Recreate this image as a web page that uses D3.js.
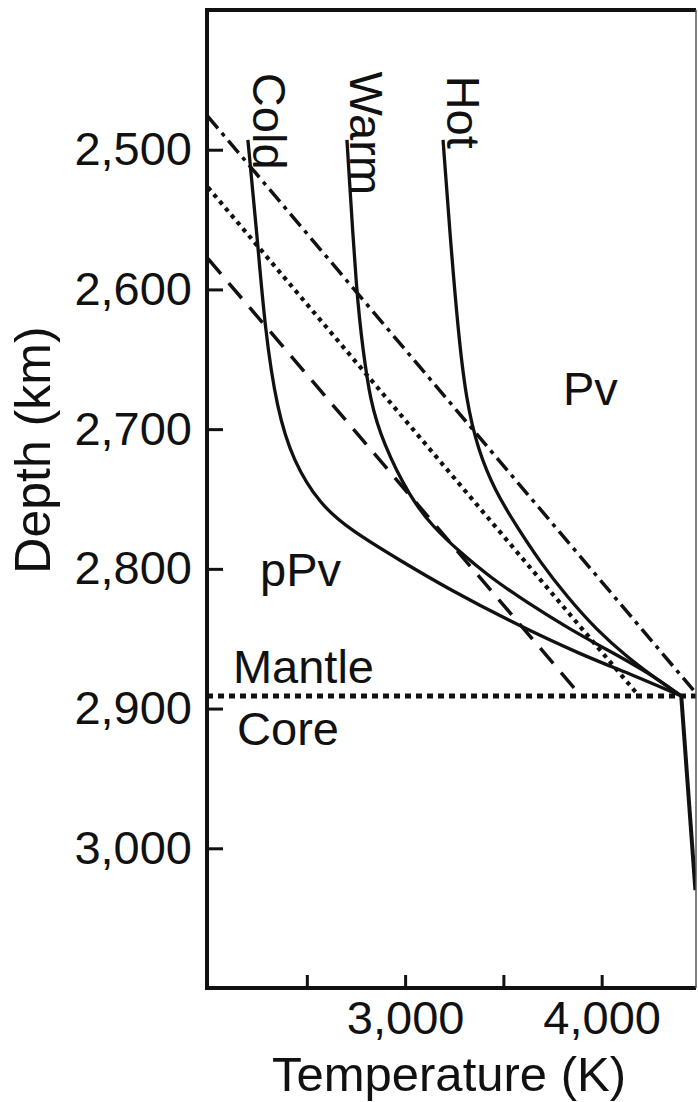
<!DOCTYPE html>
<html lang="en">
<head>
<meta charset="UTF-8">
<title>Geotherms near the core-mantle boundary</title>
<script src="https://d3js.org/d3.v7.min.js"></script>
<style>
  body { margin: 0; background: #fff; }
  text { font-family: "Liberation Sans", Arial, Helvetica, sans-serif; fill: #111; }
</style>
</head>
<body>
<svg class="chart" width="698" height="1102"></svg>
<script>
// geotherms [temperature K, depth km]
const cold = [[2200, 2493], [2246, 2560], [2287, 2629], [2348, 2686], [2430, 2723], [2567, 2754],
  [2720, 2772], [2974, 2794], [3228, 2815], [3569, 2840], [3905, 2862], [4159, 2876], [4405, 2891]];
const warm = [[2704, 2493], [2755, 2608], [2786, 2643], [2821, 2679], [2887, 2710], [3025, 2749],
  [3142, 2770], [3279, 2788], [3432, 2806], [3620, 2824], [3824, 2842], [4042, 2859], [4246, 2875], [4405, 2891]];
const hot = [[3193, 2493], [3228, 2560], [3269, 2629], [3310, 2679], [3371, 2715], [3457, 2744],
  [3569, 2770], [3686, 2795], [3824, 2820], [3976, 2844], [4129, 2863], [4281, 2879], [4405, 2891]];
const core = [[4405, 2891], [4477, 3030]];

// Pv -> pPv phase boundaries
const boundaryDashDot = [[1995, 2476], [4480, 2889]];
const boundaryDotted = [[1997, 2527], [4190, 2891]];
const boundaryDashed = [[1997, 2578], [3895, 2891]];

const cmbDepth = 2891;
const depthTicks = [2500, 2600, 2700, 2800, 2900, 3000];
const tempTicks = [2500, 3000, 3500, 4000];

const curveLabels = [{ text: 'Cold', T: 2226, D: 2445 }, { text: 'Warm', T: 2720, D: 2444 }, { text: 'Hot', T: 3213, D: 2447 }];
const regionLabels = [{ text: 'Pv', T: 3803, D: 2683 }, { text: 'pPv', T: 2262, D: 2812 },
  { text: 'Mantle', T: 2124, D: 2882 }, { text: 'Core', T: 2145, D: 2926 }];

const svg = d3.select('.chart');
const fontSize = 47;

const x = d3.scaleLinear().domain([1992, 4480]).range([207, 696]);
const y = d3.scaleLinear().domain([2400, 3100]).range([10, 988]);

const line = d3.line().x(d => x(d[0])).y(d => y(d[1]));
const smooth = d3.line().x(d => x(d[0])).y(d => y(d[1])).curve(d3.curveBasis);

svg.append('clipPath').attr('id', 'plot')
  .append('rect').attr('x', 207).attr('y', 10).attr('width', 489).attr('height', 978);

const plot = svg.append('g').attr('clip-path', 'url(#plot)');

// phase boundaries
plot.append('path').datum(boundaryDashDot).attr('d', line)
  .attr('fill', 'none').attr('stroke', '#111').attr('stroke-width', 3.5)
  .attr('stroke-dasharray', '16 6 4 6');
plot.append('path').datum(boundaryDotted).attr('d', line)
  .attr('fill', 'none').attr('stroke', '#111').attr('stroke-width', 4.2)
  .attr('stroke-dasharray', '4.2 4.8');
plot.append('path').datum(boundaryDashed).attr('d', line)
  .attr('fill', 'none').attr('stroke', '#111').attr('stroke-width', 3.5)
  .attr('stroke-dasharray', '20 12');

// core-mantle boundary
plot.append('line')
  .attr('x1', x(1992)).attr('x2', x(4480))
  .attr('y1', y(cmbDepth)).attr('y2', y(cmbDepth))
  .attr('stroke', '#111').attr('stroke-width', 5).attr('stroke-dasharray', '6 5');

// geotherms
[cold, warm, hot].forEach(g => {
  plot.append('path').datum(g).attr('d', smooth)
    .attr('fill', 'none').attr('stroke', '#111').attr('stroke-width', 3.3);
});
plot.append('path').datum(core).attr('d', line)
  .attr('fill', 'none').attr('stroke', '#111').attr('stroke-width', 4);

// axes
const yAxis = svg.append('g').attr('transform', 'translate(207,0)')
  .call(d3.axisLeft(y).tickValues(depthTicks).tickFormat(d3.format(','))
    .tickSizeInner(-16).tickSizeOuter(0).tickPadding(15));
const xAxis = svg.append('g').attr('transform', 'translate(0,988)')
  .call(d3.axisBottom(x).tickValues(tempTicks)
    .tickFormat(d => d % 1000 === 0 ? d3.format(',')(d) : '')
    .tickSizeInner(-13).tickSizeOuter(0).tickPadding(13));
[yAxis, xAxis].forEach(a => {
  a.select('.domain').remove();
  a.selectAll('line').attr('stroke', '#111').attr('stroke-width', 3);
  a.selectAll('text').attr('font-size', fontSize).attr('fill', '#111')
    .style('font-family', '"Liberation Sans", Arial, sans-serif');
});

// frame
svg.append('path')
  .attr('d', `M${x(4480)},${y(2400)}H${x(1992)}V${y(3100)}H${x(4480)}`)
  .attr('fill', 'none').attr('stroke', '#111').attr('stroke-width', 4);
svg.append('line')
  .attr('x1', x(4480)).attr('x2', x(4480)).attr('y1', y(2400)).attr('y2', y(3100))
  .attr('stroke', '#555').attr('stroke-width', 1.5);

// labels
svg.selectAll('.curve-label').data(curveLabels).enter().append('text')
  .attr('class', 'curve-label')
  .attr('transform', d => `translate(${x(d.T)},${y(d.D)}) rotate(90)`)
  .attr('font-size', fontSize)
  .text(d => d.text);

svg.selectAll('.region-label').data(regionLabels).enter().append('text')
  .attr('class', 'region-label')
  .attr('x', d => x(d.T)).attr('y', d => y(d.D))
  .attr('font-size', fontSize)
  .text(d => d.text);

svg.append('text')
  .attr('transform', 'translate(50,450) rotate(-90)')
  .attr('text-anchor', 'middle').attr('font-size', 50)
  .text('Depth (km)');

svg.append('text')
  .attr('x', 449).attr('y', 1091)
  .attr('text-anchor', 'middle').attr('font-size', 49)
  .text('Temperature (K)');
</script>
</body>
</html>
